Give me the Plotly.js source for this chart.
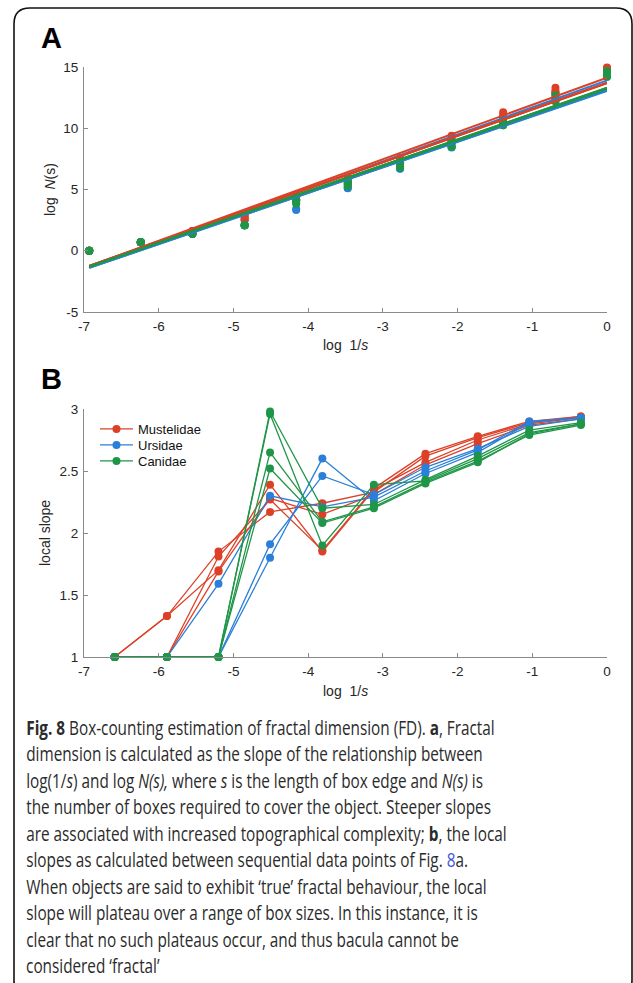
<!DOCTYPE html>
<html><head><meta charset="utf-8">
<script src="https://cdn.plot.ly/plotly-3.0.1.min.js"></script>
<style>html,body{margin:0;padding:0;background:#fff;} #chart{width:633px;height:983px;}</style>
</head><body><div id="chart"></div>
<script>
// ---------- data ----------
const families = ['Mustelidae', 'Ursidae', 'Canidae'];
const familyColors = ['#dc4128', '#2a7fd8', '#1f9647'];

// Panel A: x = log(1/s) for each box size
const logInvS = [-6.93, -6.24, -5.55, -4.85, -4.16, -3.47, -2.77, -2.08, -1.39, -0.69, 0];
// Panel A: log N(s) per specimen
const mustelidaeLogN = [
  [0, 0.69, 1.62, 2.90, 4.40, 5.96, 7.57, 9.39, 11.31, 13.31, 15.35],
  [0, 0.69, 1.62, 2.79, 4.45, 5.73, 7.36, 9.14, 11.05, 13.04, 15.07],
  [0, 0.69, 1.39, 2.64, 4.21, 5.50, 7.14, 8.97, 10.90, 12.91, 14.95],
  [0, 0.69, 1.39, 2.56, 4.14, 5.63, 7.23, 9.00, 10.89, 12.88, 14.90]
];
const ursidaeLogN = [
  [0, 0.69, 1.39, 2.49, 4.08, 5.62, 7.20, 8.94, 10.79, 12.80, 14.83],
  [0, 0.69, 1.39, 2.08, 3.40, 5.11, 6.71, 8.46, 10.32, 12.30, 14.33],
  [0, 0.69, 1.39, 2.08, 3.33, 5.13, 6.70, 8.42, 10.25, 12.26, 14.29]
];
const canidaeLogN = [
  [0, 0.69, 1.39, 2.08, 4.15, 5.67, 7.22, 8.90, 10.72, 12.68, 14.68],
  [0, 0.69, 1.39, 2.08, 4.13, 5.45, 7.10, 8.78, 10.59, 12.53, 14.53],
  [0, 0.69, 1.39, 2.08, 3.92, 5.37, 6.90, 8.57, 10.36, 12.29, 14.28],
  [0, 0.69, 1.39, 2.08, 3.83, 5.27, 6.80, 8.46, 10.24, 12.18, 14.18]
];
// Panel A: fitted lines (fractal dimension = slope) per specimen
const mustelidaeFitSlope = [2.219, 2.160, 2.157, 2.154];
const mustelidaeFitIntercept = [14.13, 13.72, 13.70, 13.68];
const ursidaeFitSlope = [2.200, 2.091, 2.085];
const ursidaeFitIntercept = [13.90, 13.09, 13.05];
const canidaeFitSlope = [2.107, 2.100, 2.092, 2.104];
const canidaeFitIntercept = [13.30, 13.25, 13.20, 13.28];

// Panel B: x positions of local slopes
const slopeX = [-6.59, -5.89, -5.20, -4.51, -3.81, -3.12, -2.43, -1.73, -1.04, -0.35];
const mustelidaeSlope = [
  [1.00, 1.33, 1.85, 2.17, 2.24, 2.33, 2.62, 2.77, 2.89, 2.94],
  [1.00, 1.33, 1.70, 2.39, 1.85, 2.35, 2.57, 2.75, 2.88, 2.93],
  [1.00, 1.00, 1.81, 2.27, 1.86, 2.36, 2.64, 2.78, 2.90, 2.94],
  [1.00, 1.00, 1.69, 2.28, 2.15, 2.31, 2.55, 2.72, 2.87, 2.92]
];
const ursidaeSlope = [
  [1.00, 1.00, 1.59, 2.30, 2.21, 2.29, 2.50, 2.67, 2.90, 2.93],
  [1.00, 1.00, 1.00, 1.91, 2.46, 2.31, 2.53, 2.68, 2.86, 2.92],
  [1.00, 1.00, 1.00, 1.80, 2.60, 2.26, 2.48, 2.65, 2.89, 2.93]
];
const canidaeSlope = [
  [1.00, 1.00, 1.00, 2.98, 2.20, 2.23, 2.43, 2.62, 2.83, 2.89],
  [1.00, 1.00, 1.00, 2.96, 1.90, 2.39, 2.42, 2.60, 2.81, 2.88],
  [1.00, 1.00, 1.00, 2.65, 2.09, 2.21, 2.41, 2.58, 2.79, 2.87],
  [1.00, 1.00, 1.00, 2.52, 2.08, 2.20, 2.40, 2.57, 2.80, 2.88]
];

// tick labels
const xTickVals = [-7, -6, -5, -4, -3, -2, -1, 0];
const xTickText = ['-7', '-6', '-5', '-4', '-3', '-2', '-1', '0'];
const yATickVals = [-5, 0, 5, 10, 15];
const yATickText = ['-5', '0', '5', '10', '15'];
const yBTickVals = [1, 1.5, 2, 2.5, 3];
const yBTickText = ['1', '1.5', '2', '2.5', '3'];

const captionLines = [
  '<b>Fig. 8</b> Box-counting estimation of fractal dimension (FD). <b>a</b>, Fractal',
  'dimension is calculated as the slope of the relationship between',
  'log(1/<i>s</i>) and log <i>N(s),</i> where <i>s</i> is the length of box edge and <i>N(s)</i> is',
  'the number of boxes required to cover the object. Steeper slopes',
  'are associated with increased topographical complexity; <b>b</b>, the local',
  'slopes as calculated between sequential data points of Fig. <span style="color:#3b4fd8">8</span>a.',
  'When objects are said to exhibit \u2018true\u2019 fractal behaviour, the local',
  'slope will plateau over a range of box sizes. In this instance, it is',
  'clear that no such plateaus occur, and thus bacula cannot be',
  'considered \u2018fractal\u2019'
];

// ---------- build ----------
const W = 633, H = 983;
const px = v => v / W;
const py = v => 1 - v / H;

const famLogN = [mustelidaeLogN, ursidaeLogN, canidaeLogN];
const famFitS = [mustelidaeFitSlope, ursidaeFitSlope, canidaeFitSlope];
const famFitI = [mustelidaeFitIntercept, ursidaeFitIntercept, canidaeFitIntercept];
const famSlope = [mustelidaeSlope, ursidaeSlope, canidaeSlope];
const legendIds = ['legend', 'legend2', 'legend3'];

const traces = [];
// Panel A order: Ursidae, Mustelidae, Canidae
const orderA = [1, 0, 2];
orderA.forEach(f => {
  famLogN[f].forEach(ys => {
    traces.push({x: logInvS, y: ys, xaxis: 'x', yaxis: 'y', mode: 'markers', type: 'scatter',
      marker: {color: familyColors[f], size: 8}, showlegend: false, cliponaxis: false, hoverinfo: 'skip'});
  });
});
orderA.forEach(f => {
  famFitS[f].forEach((m, i) => {
    const x0 = logInvS[0], x1 = logInvS[logInvS.length - 1];
    const c = famFitI[f][i];
    traces.push({x: [x0, x1], y: [c + m * x0, c + m * x1], xaxis: 'x', yaxis: 'y', mode: 'lines', type: 'scatter',
      line: {color: familyColors[f], width: 2}, showlegend: false, hoverinfo: 'skip'});
  });
});
// Panel B
[0, 1, 2].forEach(f => {
  famSlope[f].forEach((ys, i) => {
    traces.push({x: slopeX, y: ys, xaxis: 'x2', yaxis: 'y2', mode: 'lines+markers', type: 'scatter',
      line: {color: familyColors[f], width: 1.3}, marker: {color: familyColors[f], size: 8},
      name: families[f], legend: legendIds[f], showlegend: i === 0,
      cliponaxis: false, hoverinfo: 'skip'});
  });
});

const tickFont = {family: 'Liberation Sans, Arial, sans-serif', size: 13.5, color: '#262626'};
const axisCommon = {showline: true, linecolor: '#8a8a8a', linewidth: 1, ticks: 'inside', ticklen: 4,
  tickcolor: '#8a8a8a', showgrid: false, zeroline: false, tickfont: tickFont, fixedrange: true, ticklabelstandoff: 2};
const xDom = [px(84), px(607)];

const annFont = {family: 'Liberation Sans, Arial, sans-serif', size: 14, color: '#262626'};
const annotations = [
  {text: '<b>A</b>', x: px(39), y: py(38), xref: 'paper', yref: 'paper', xanchor: 'left', yanchor: 'middle', showarrow: false,
    font: {family: 'Liberation Sans, Arial, sans-serif', size: 29, color: '#000'}},
  {text: '<b>B</b>', x: px(39), y: py(379), xref: 'paper', yref: 'paper', xanchor: 'left', yanchor: 'middle', showarrow: false,
    font: {family: 'Liberation Sans, Arial, sans-serif', size: 29, color: '#000'}},
  {text: 'log\u00a0\u00a0<i>N</i>(s)', x: px(50), y: py(190), xref: 'paper', yref: 'paper', textangle: -90, xanchor: 'center', yanchor: 'middle', showarrow: false, font: annFont},
  {text: 'log\u00a0\u00a01/<i>s</i>', x: px(345), y: py(345), xref: 'paper', yref: 'paper', xanchor: 'center', yanchor: 'middle', showarrow: false, font: annFont},
  {text: 'local slope', x: px(45), y: py(533), xref: 'paper', yref: 'paper', textangle: -90, xanchor: 'center', yanchor: 'middle', showarrow: false, font: annFont},
  {text: 'log\u00a0\u00a01/<i>s</i>', x: px(345), y: py(691), xref: 'paper', yref: 'paper', xanchor: 'center', yanchor: 'middle', showarrow: false, font: annFont}
];
const CAPTION_START = annotations.length;
captionLines.forEach((t, i) => {
  annotations.push({text: t, x: px(24), y: py(727 + i * 26.55), xref: 'paper', yref: 'paper', xanchor: 'left', yanchor: 'middle',
    showarrow: false, font: {family: 'Open Sans, sans-serif', size: 20, color: '#2b2b2b'}});
});

// rounded frame
const L = 14, T = 8, R = 632, B = 996, r = 16;
const framePath = `M ${px(L)},${py(B)} L ${px(L)},${py(T + r)} Q ${px(L)},${py(T)} ${px(L + r)},${py(T)} L ${px(R - r)},${py(T)} Q ${px(R)},${py(T)} ${px(R)},${py(T + r)} L ${px(R)},${py(B - r)} Q ${px(R)},${py(B)} ${px(R - r)},${py(B)} L ${px(L + r)},${py(B)} Q ${px(L)},${py(B)} ${px(L)},${py(B - r)} Z`;

const legendCommon = {xanchor: 'left', yanchor: 'middle', bgcolor: 'rgba(0,0,0,0)', borderwidth: 0,
  font: {family: 'Liberation Sans, Arial, sans-serif', size: 13, color: '#111'}, tracegroupgap: 0, itemwidth: 33};
const legendRows = [429, 445, 461];

const layout = {
  width: W, height: H, margin: {l: 0, r: 0, t: 0, b: 0}, paper_bgcolor: '#fff', plot_bgcolor: 'rgba(0,0,0,0)',
  showlegend: true,
  xaxis: Object.assign({}, axisCommon, {domain: xDom, anchor: 'y', range: [-7, 0], tickvals: xTickVals, ticktext: xTickText}),
  yaxis: Object.assign({}, axisCommon, {domain: [py(312), py(67)], anchor: 'x', range: [-5, 15], tickvals: yATickVals, ticktext: yATickText}),
  xaxis2: Object.assign({}, axisCommon, {domain: xDom, anchor: 'y2', range: [-7, 0], tickvals: xTickVals, ticktext: xTickText}),
  yaxis2: Object.assign({}, axisCommon, {domain: [py(657), py(409)], anchor: 'x2', range: [1, 3], tickvals: yBTickVals, ticktext: yBTickText}),
  legend: Object.assign({}, legendCommon, {x: px(95), y: py(legendRows[0])}),
  legend2: Object.assign({}, legendCommon, {x: px(95), y: py(legendRows[1])}),
  legend3: Object.assign({}, legendCommon, {x: px(95), y: py(legendRows[2])}),
  annotations: annotations,
  shapes: [{type: 'path', xref: 'paper', yref: 'paper', path: framePath, line: {color: '#111', width: 1.6}, fillcolor: 'rgba(0,0,0,0)', layer: 'above'}]
};

const CAPTION_REF_WIDTH = 457; // width of caption line 2 in the reference, px
Plotly.newPlot('chart', traces, layout, {displayModeBar: false, staticPlot: true}).then(() => {
  const texts = captionLines.map((_, i) =>
    document.querySelector(`.annotation[data-index="${CAPTION_START + i}"] text.annotation-text`));
  if (texts.some(t => !t)) return;
  const sx = CAPTION_REF_WIDTH / texts[1].getBBox().width;
  texts.forEach(t => {
    const bb = t.getBBox();
    const prev = t.getAttribute('transform') || '';
    t.setAttribute('transform', `${prev} matrix(${sx},0,0,1,${bb.x * (1 - sx)},0)`);
  });
});
</script>
</body></html>
